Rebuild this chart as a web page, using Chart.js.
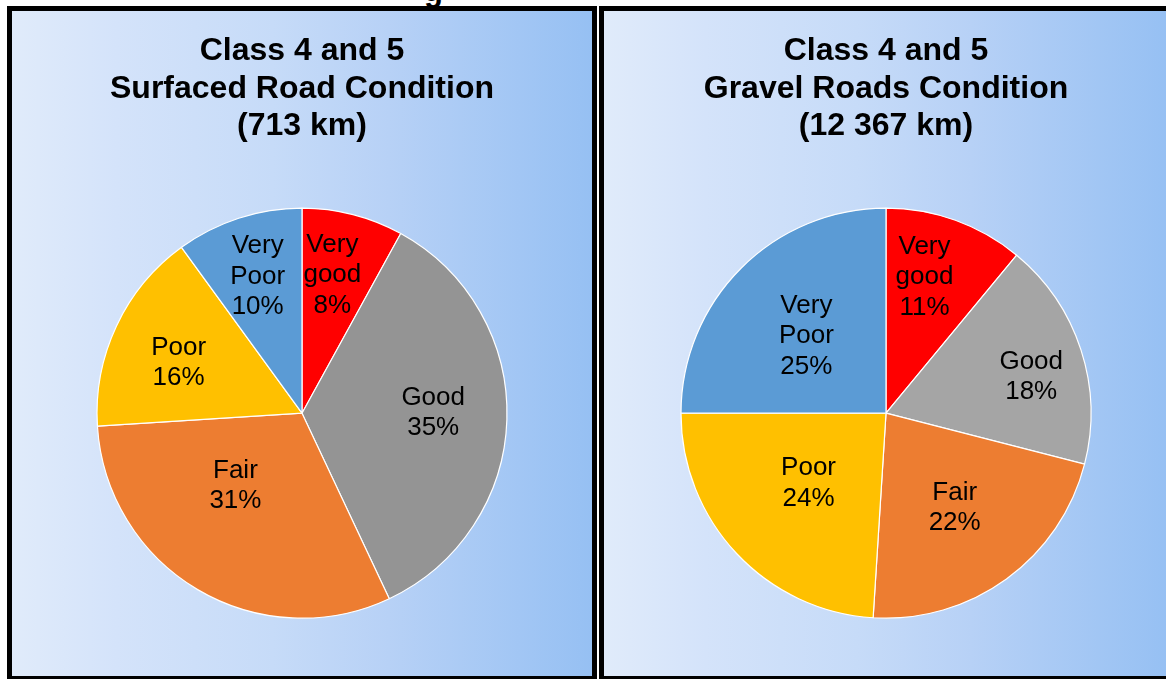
<!DOCTYPE html>
<html>
<head>
<meta charset="utf-8">
<script src="https://cdn.jsdelivr.net/npm/chart.js@4.4.1/dist/chart.umd.min.js"></script>
<style>
  html, body { margin: 0; padding: 0; background: #fff; overflow: hidden; }
  body { width: 1166px; height: 679px; position: relative; font-family: "Liberation Sans", Arial, sans-serif; }
  .panel {
    position: absolute;
    top: 6px;
    height: 665px;
    border: 5px solid #000;
    background: linear-gradient(to right, #e0ebfa 0%, #d4e3fa 18%, #c6dbf8 45%, #b7d1f6 65%, #96c0f3 100%);
  }
  #leftPanel { left: 7px; width: 580px; }
  #rightPanel { left: 599px; width: 564px; }
  .panel canvas { position: absolute; left: 0; top: 0; }
  #topCut {
    position: absolute; left: 424px; top: -27px;
    font: bold 31px "Liberation Sans", Arial, sans-serif; color: #000;
  }
</style>
</head>
<body>
<div id="topCut">g</div>
<div class="panel" id="leftPanel"><canvas id="surfacedChart"></canvas></div>
<div class="panel" id="rightPanel"><canvas id="gravelChart"></canvas></div>
<script>
const categories = ['Very good', 'Good', 'Fair', 'Poor', 'Very Poor'];
const labelLines = [['Very', 'good'], ['Good'], ['Fair'], ['Poor'], ['Very', 'Poor']];
const surfacedValues = [8, 35, 31, 16, 10];
const gravelValues = [11, 18, 22, 24, 25];
const surfacedTitle = ['Class 4 and 5', 'Surfaced Road Condition', '(713 km)'];
const gravelTitle = ['Class 4 and 5', 'Gravel Roads Condition', '(12 367 km)'];

const sliceColors = {
  surfaced: ['#ff0000', '#949494', '#ed7d31', '#ffc000', '#5b9bd5'],
  gravel: ['#ff0000', '#a5a5a5', '#ed7d31', '#ffc000', '#5b9bd5']
};

// where each label sits: fraction of the radius, and a small turn off the mid angle (degrees)
const labelSpots = {
  surfaced: { r: [0.69, 0.64, 0.48, 0.65, 0.70], turn: [-2, -2, 12, -3, 0] },
  gravel: { r: [0.69, 0.73, 0.57, 0.51, 0.54], turn: [-4, 4, 0, 1, -1] }
};

const sliceLabels = {
  id: 'sliceLabels',
  afterDatasetsDraw(chart, args, opts) {
    const ctx = chart.ctx;
    const meta = chart.getDatasetMeta(0);
    const data = chart.data.datasets[0].data;
    ctx.save();
    ctx.font = '26px "Liberation Sans", Arial, sans-serif';
    ctx.fillStyle = '#000';
    ctx.textAlign = 'center';
    ctx.textBaseline = 'middle';
    meta.data.forEach((arc, i) => {
      const p = arc.getProps(['x', 'y', 'startAngle', 'endAngle', 'outerRadius'], true);
      const mid = (p.startAngle + p.endAngle) / 2 + opts.turn[i] * Math.PI / 180;
      const dist = p.outerRadius * opts.r[i];
      const cx = p.x + Math.cos(mid) * dist;
      const cy = p.y + Math.sin(mid) * dist;
      const lines = labelLines[i].concat([data[i] + '%']);
      const lh = 30.5;
      lines.forEach((t, k) => {
        ctx.fillText(t, cx, cy + (k - (lines.length - 1) / 2) * lh);
      });
    });
    ctx.restore();
  }
};

function makePie(id, values, title, colors, spots, width) {
  const canvas = document.getElementById(id);
  canvas.width = width;
  canvas.height = 665;
  canvas.style.width = width + 'px';
  canvas.style.height = '665px';
  return new Chart(canvas.getContext('2d'), {
    type: 'pie',
    data: {
      labels: categories,
      datasets: [{
        data: values,
        backgroundColor: colors,
        borderColor: '#ffffff',
        borderWidth: 1.2,
        radius: 205
      }]
    },
    options: {
      responsive: false,
      animation: false,
      layout: { padding: { top: 0, bottom: 4, left: 0, right: 0 } },
      plugins: {
        legend: { display: false },
        tooltip: { enabled: false },
        title: {
          display: true,
          text: title,
          color: '#000',
          font: { family: '"Liberation Sans", Arial, sans-serif', size: 32, weight: 'bold', lineHeight: 1.16 },
          padding: { top: 22, bottom: 10 }
        },
        sliceLabels: spots
      }
    },
    plugins: [sliceLabels]
  });
}

makePie('surfacedChart', surfacedValues, surfacedTitle, sliceColors.surfaced, labelSpots.surfaced, 580);
makePie('gravelChart', gravelValues, gravelTitle, sliceColors.gravel, labelSpots.gravel, 564);
</script>
</body>
</html>
